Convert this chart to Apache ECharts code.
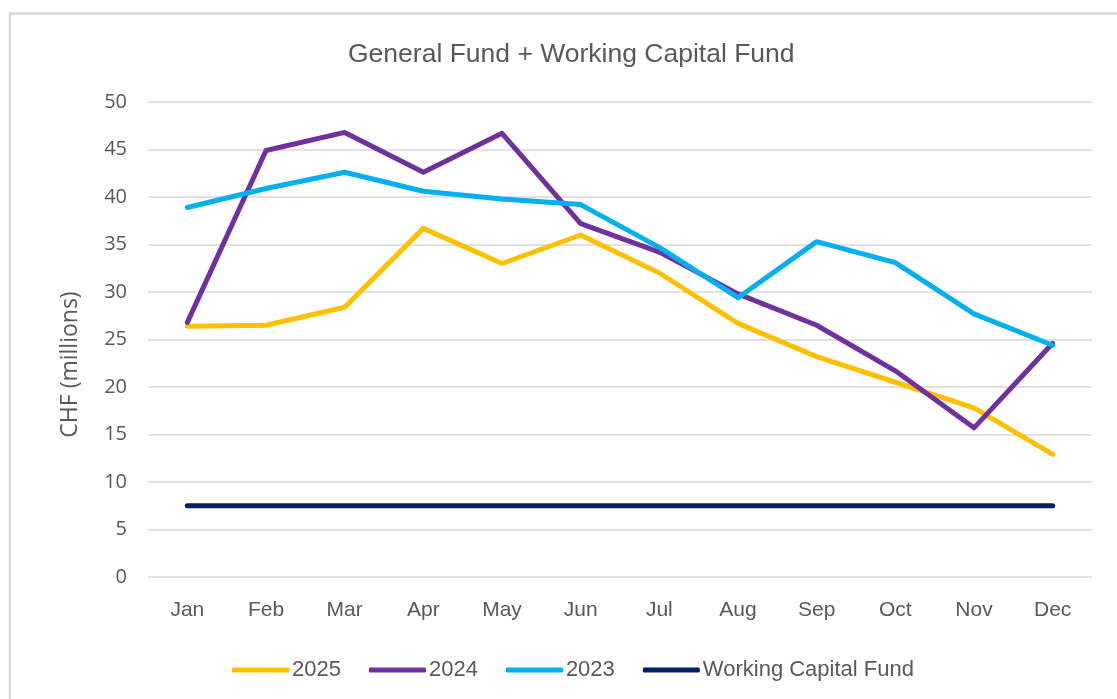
<!DOCTYPE html>
<html>
<head>
<meta charset="utf-8">
<script src="https://cdn.jsdelivr.net/npm/echarts@6/dist/echarts.min.js"></script>
<style>
    html, body { margin: 0; padding: 0; background: #fff; }
    #chart { width: 1117px; height: 699px; }
</style>
</head>
<body>
<div id="chart"></div>
<script>
// 数据
const months = ['Jan', 'Feb', 'Mar', 'Apr', 'May', 'Jun', 'Jul', 'Aug', 'Sep', 'Oct', 'Nov', 'Dec'];
const fund2025 = [26.4, 26.5, 28.4, 36.7, 33.0, 36.0, 32.0, 26.7, 23.2, 20.5, 17.8, 12.9];
const fund2024 = [26.8, 44.9, 46.8, 42.6, 46.7, 37.2, 34.2, 29.8, 26.5, 21.7, 15.7, 24.6];
const fund2023 = [38.9, 40.9, 42.6, 40.6, 39.8, 39.2, 34.7, 29.4, 35.3, 33.1, 27.7, 24.4];
const workingCapital = [7.5, 7.5, 7.5, 7.5, 7.5, 7.5, 7.5, 7.5, 7.5, 7.5, 7.5, 7.5];

const mainFont = '"Liberation Sans", sans-serif';
const axisFont = '"Open Sans", sans-serif';
const textColor = '#595959';

function lineSeries(name, data, color) {
    return {
        name: name,
        type: 'line',
        data: data,
        symbol: 'none',
        lineStyle: { width: 5, color: color, cap: 'round', join: 'round' },
        itemStyle: { color: color }
    };
}

const myChart = echarts.init(document.getElementById('chart'));
myChart.setOption({
    animation: false,
    graphic: [{
        type: 'rect',
        shape: { x: 10, y: 13.5, width: 1120, height: 700 },
        style: { fill: 'none', stroke: '#d9d9d9', lineWidth: 2.5 },
        silent: true
    }],
    title: {
        text: 'General Fund + Working Capital Fund',
        left: 343,
        top: 36,
        textStyle: { fontFamily: mainFont, fontSize: 26.5, fontWeight: 'normal', color: textColor }
    },
    legend: {
        bottom: 13,
        left: 227,
        itemWidth: 57,
        itemHeight: 5,
        itemGap: 28,
        icon: 'roundRect',
        textStyle: { fontFamily: mainFont, fontSize: 22, color: textColor, padding: [0, 0, 0, -2] },
        data: ['2025', '2024', '2023', 'Working Capital Fund']
    },
    grid: { left: 148, right: 25, top: 102, bottom: 122 },
    xAxis: {
        type: 'category',
        data: months,
        boundaryGap: true,
        axisLine: { show: false },
        axisTick: { show: false },
        axisLabel: { fontFamily: mainFont, fontSize: 21, color: textColor, margin: 23 }
    },
    yAxis: {
        type: 'value',
        min: 0,
        max: 50,
        interval: 5,
        name: 'CHF (millions)',
        nameLocation: 'middle',
        nameGap: 66,
        nameTextStyle: { fontFamily: axisFont, fontSize: 23, color: textColor, padding: [0, 50, 0, 0] },
        axisLabel: { fontFamily: axisFont, fontSize: 20, color: textColor, margin: 21 },
        splitLine: { lineStyle: { color: '#d9d9d9', width: 1.5 } }
    },
    series: [
        lineSeries('2025', fund2025, '#ffc000'),
        lineSeries('2024', fund2024, '#7030a0'),
        lineSeries('2023', fund2023, '#00b0f0'),
        lineSeries('Working Capital Fund', workingCapital, '#002060')
    ]
});
</script>
</body>
</html>
